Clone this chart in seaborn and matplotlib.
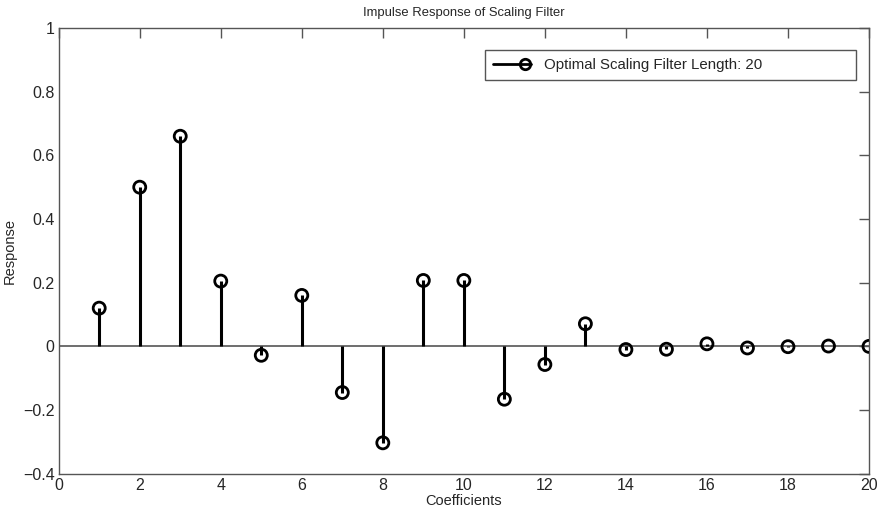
import numpy as np
import pandas as pd
import seaborn as sns
import matplotlib.pyplot as plt
from matplotlib.lines import Line2D
from matplotlib.legend_handler import HandlerLine2D

# коэффициенты масштабирующего фильтра
coef = list(range(1, 21))
response = [0.12, 0.50, 0.66, 0.205, -0.028, 0.16, -0.145, -0.303, 0.207, 0.207,
            -0.166, -0.057, 0.071, -0.010, -0.009, 0.008, -0.005, -0.001, 0.001, 0.0]
x_ticks = [0, 2, 4, 6, 8, 10, 12, 14, 16, 18, 20]
y_ticks = [-0.4, -0.2, 0, 0.2, 0.4, 0.6, 0.8, 1]
y_ticklabels = ['\u22120.4', '\u22120.2', '0', '0.2', '0.4', '0.6', '0.8', '1']

df = pd.DataFrame({'coef': coef, 'response': response})


# маркер в легенде справа, как в MATLAB
class StemHandler(HandlerLine2D):
    def create_artists(self, legend, orig_handle, xdescent, ydescent,
                       width, height, fontsize, trans):
        arts = super().create_artists(legend, orig_handle, xdescent, ydescent,
                                      width, height, fontsize, trans)
        line = arts[0]
        x0 = -xdescent
        x1 = -xdescent + width
        y = line.get_ydata()[0]
        line.set_data([x0, x1 - 4, x1], [y, y, y])
        line.set_markevery([1])
        return arts


sns.set_style('white')
plt.rcParams['font.family'] = ['Liberation Sans', 'DejaVu Sans']

fig = plt.figure(figsize=(8.8, 5.14), dpi=100)
ax = fig.add_axes([0.0667, 0.0784, 0.9208, 0.8671])

# ножки и нулевая линия
ax.axhline(0, color='#555555', lw=1.2, zorder=1)
ax.vlines(df['coef'], 0, df['response'], color='black', lw=2.2, zorder=2)
sns.scatterplot(data=df, x='coef', y='response', ax=ax, marker='o', s=75,
                facecolor='none', edgecolor='black', linewidth=2, zorder=3,
                legend=False)

ax.set_xlim(0, 20)
ax.set_ylim(-0.4, 1)
ax.set_xticks(x_ticks)
ax.set_yticks(y_ticks)
ax.set_yticklabels(y_ticklabels)
ax.tick_params(direction='in', length=7, width=1, color='#555555',
               top=True, right=True, labelsize=11.5, pad=3)
for s in ax.spines.values():
    s.set_color('#555555')
    s.set_linewidth(1)

ax.set_title('Impulse Response of Scaling Filter', fontsize=9.4, pad=9)
ax.set_xlabel('Coefficients', fontsize=10.5, labelpad=1)
ax.set_ylabel('Response', fontsize=10.5, labelpad=4)

handle = Line2D([0], [0], color='black', lw=2, marker='o', markersize=7.5,
                markerfacecolor='none', markeredgewidth=2)
leg = ax.legend([handle], ['Optimal Scaling Filter Length: 20'],
                handler_map={Line2D: StemHandler()},
                loc='upper left', bbox_to_anchor=(0.526, 0.879, 0.458, 0.072),
                mode='expand', fontsize=10.8,
                fancybox=False, framealpha=1, edgecolor='#555555',
                handlelength=2.5, handletextpad=0.9, borderpad=0.55,
                borderaxespad=0)
leg.get_frame().set_linewidth(1)

fig.savefig('out.png', dpi=100)
